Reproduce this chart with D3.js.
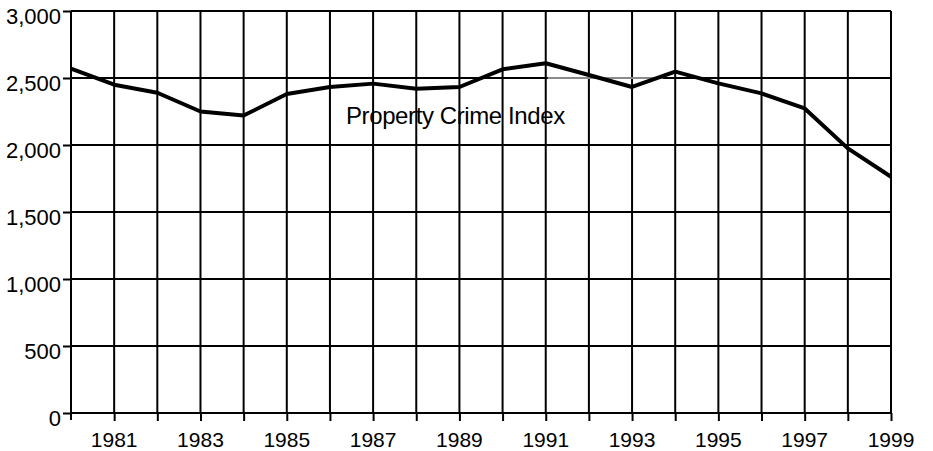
<!DOCTYPE html>
<html>
<head>
<meta charset="utf-8">
<script src="https://cdn.jsdelivr.net/npm/d3@7"></script>
<style>
  body { margin: 0; background: #fff; }
  text { font-family: "Liberation Sans", Arial, sans-serif; fill: #000; }
</style>
</head>
<body>
<script>
// Property crime index, 1980-1999
const years = [1980, 1981, 1982, 1983, 1984, 1985, 1986, 1987, 1988, 1989,
               1990, 1991, 1992, 1993, 1994, 1995, 1996, 1997, 1998, 1999];
const crimeIndex = [2570, 2450, 2390, 2250, 2220, 2380, 2433, 2458, 2420, 2433,
                    2565, 2610, 2522, 2433, 2548, 2460, 2385, 2273, 1975, 1763];
const yTicks = [0, 500, 1000, 1500, 2000, 2500, 3000];
const xLabels = [1981, 1983, 1985, 1987, 1989, 1991, 1993, 1995, 1997, 1999];
const seriesLabel = 'Property Crime Index';

const w = 933, h = 451;
const mLeft = 71, mRight = 891, mTop = 11, mBottom = 413;

const svg = d3.select('body')
    .append('svg')
    .attr('width', w)
    .attr('height', h);

const x = d3.scaleLinear().domain([1980, 1999]).range([mLeft, mRight]);
const y = d3.scaleLinear().domain([0, 3000]).range([mBottom, mTop]);

// grid lines
svg.append('g')
    .selectAll('line')
    .data(years.slice(1))
    .enter()
    .append('line')
    .attr('x1', d => x(d)).attr('x2', d => x(d))
    .attr('y1', mTop).attr('y2', mBottom)
    .attr('stroke', '#000').attr('stroke-width', 2);

svg.append('g')
    .selectAll('line')
    .data(yTicks.slice(1))
    .enter()
    .append('line')
    .attr('x1', mLeft).attr('x2', mRight)
    .attr('y1', d => y(d)).attr('y2', d => y(d))
    .attr('stroke', d => '#000').attr('stroke-width', 2);

// faded stretch of the 2,500 grid line in the scan
svg.append('line')
    .attr('x1', x(1991) + 2).attr('x2', x(1994) - 12)
    .attr('y1', y(2500)).attr('y2', y(2500))
    .attr('stroke', '#8a8a8a').attr('stroke-width', 2);

// y axis
const yAxis = svg.append('g')
    .attr('transform', `translate(${mLeft},0)`)
    .call(d3.axisLeft(y).tickValues(yTicks).tickFormat(d3.format(',')).tickSize(8).tickPadding(2));
yAxis.select('.domain').attr('d', `M0,${mTop}V${mBottom + 7}`).attr('stroke-width', 2);
yAxis.selectAll('.tick line').attr('stroke-width', 2);
yAxis.selectAll('.tick text')
    .attr('font-size', 22)
    .attr('dy', '0.55em');

// x axis
const xAxis = svg.append('g')
    .attr('transform', `translate(0,${mBottom})`)
    .call(d3.axisBottom(x).tickValues(years.slice(1)).tickSize(8).tickFormat(''));
xAxis.select('.domain').attr('d', `M${mLeft},0H${mRight}`).attr('stroke-width', 2);
xAxis.selectAll('.tick line').attr('stroke-width', 2);

svg.append('g')
    .selectAll('text')
    .data(xLabels)
    .enter()
    .append('text')
    .attr('x', d => x(d))
    .attr('y', 447)
    .attr('text-anchor', 'middle')
    .attr('font-size', 21)
    .text(d => d);

// series line
const line = d3.line()
    .x((d, i) => x(years[i]))
    .y(d => y(d));

svg.append('path')
    .datum(crimeIndex)
    .attr('d', line)
    .attr('fill', 'none')
    .attr('stroke', '#000')
    .attr('stroke-width', 4)
    .attr('stroke-linejoin', 'round');

svg.append('text')
    .attr('x', 346)
    .attr('y', 124)
    .attr('font-size', 24)
    .attr('letter-spacing', -0.4)
    .text(seriesLabel);
</script>
</body>
</html>
